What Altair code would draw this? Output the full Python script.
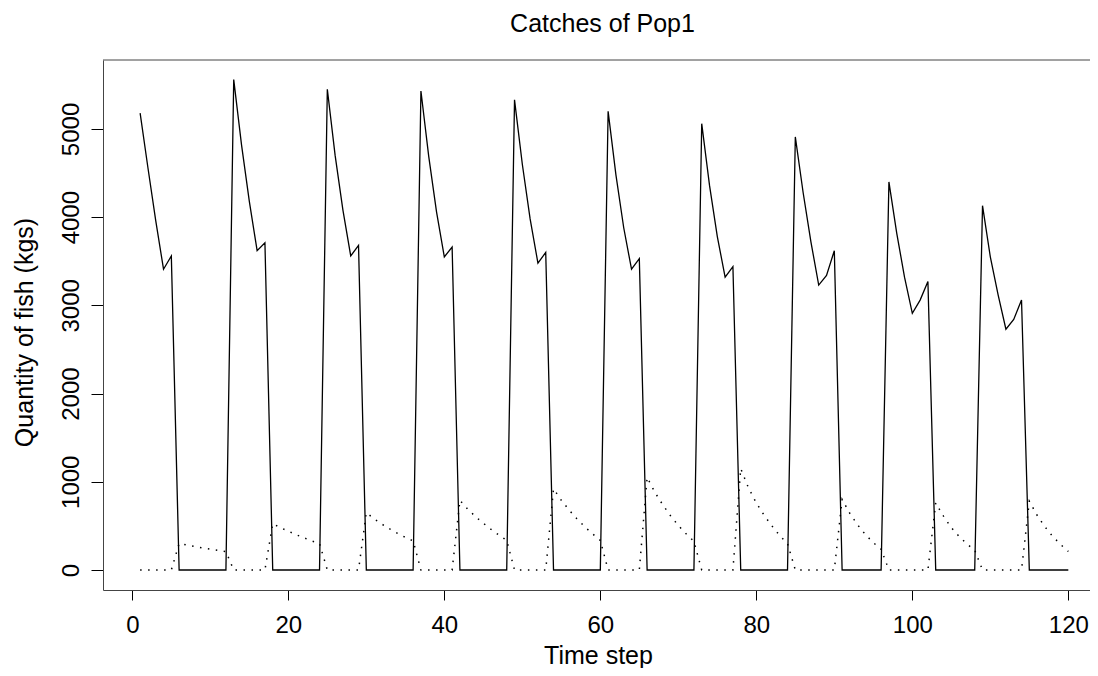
import altair as alt
import pandas as pd

# ---- data ----
time_steps = list(range(1, 121))

pop1_catch = (
    [5180, 4560, 3960, 3410, 3560] + [0] * 7 +
    [5560, 4820, 4180, 3620, 3710] + [0] * 7 +
    [5450, 4700, 4080, 3560, 3680] + [0] * 7 +
    [5430, 4690, 4060, 3550, 3660] + [0] * 7 +
    [5330, 4600, 3980, 3480, 3600] + [0] * 7 +
    [5200, 4480, 3880, 3410, 3530] + [0] * 7 +
    [5060, 4360, 3780, 3320, 3440] + [0] * 7 +
    [4910, 4280, 3720, 3230, 3340, 3620] + [0] * 6 +
    [4400, 3820, 3320, 2910, 3060, 3270] + [0] * 6 +
    [4130, 3550, 3120, 2730, 2840, 3060] + [0] * 6
)

other_catch = (
    [0] * 5 + [300, 282, 266, 250, 236, 222, 208] +
    [0] * 5 + [525, 480, 440, 400, 365, 330, 300] +
    [0] * 5 + [650, 580, 520, 465, 415, 370, 330] +
    [0] * 5 + [790, 690, 605, 530, 460, 395, 335] +
    [0] * 5 + [920, 790, 680, 580, 490, 410, 335] +
    [0] * 5 + [1050, 880, 740, 615, 505, 410, 325] +
    [0] * 5 + [1150, 930, 760, 620, 500, 390, 300] +
    [0] * 6 + [800, 640, 510, 400, 310, 235] +
    [0] * 6 + [760, 610, 480, 380, 295, 225] +
    [0] * 6 + [780, 620, 490, 380, 290, 210]
)

x_ticks = [0, 20, 40, 60, 80, 100, 120]
y_ticks = [0, 1000, 2000, 3000, 4000, 5000]

df = pd.DataFrame({
    "t": time_steps * 2,
    "q": pop1_catch + other_catch,
    "s": ["solid"] * 120 + ["dotted"] * 120,
})

W, H = 987, 530
FONT = "Liberation Sans"

xscale = alt.Scale(domain=[-3.76, 122.78], nice=False, zero=False)
yscale = alt.Scale(domain=[-227, 5782], nice=False, zero=False)

xaxis = alt.Axis(
    values=x_ticks, title="Time step", grid=False, format="d",
    tickSize=10, tickColor="black", domainColor="#444",
    labelFont=FONT, labelFontSize=24, labelColor="black",
    labelBaseline="alphabetic", labelPadding=32, labelFlush=False, labelOverlap=False,
    titleFont=FONT, titleFontSize=25, titleFontWeight="normal", titleColor="black",
    titleBaseline="alphabetic", titleX=495, titleY=73, titleAlign="center",
)
yaxis = alt.Axis(
    values=y_ticks, title="Quantity of fish (kgs)", grid=False, format="d",
    tickSize=12, tickColor="black", domainColor="#444",
    labelFont=FONT, labelFontSize=24, labelColor="black",
    labelAngle=270, labelAlign="center", labelBaseline="alphabetic",
    labelPadding=13, labelFlush=False, labelOverlap=False,
    titleFont=FONT, titleFontSize=25, titleFontWeight="normal", titleColor="black",
    titleAngle=270, titleAlign="center", titleBaseline="alphabetic",
    titleX=-71, titleY=272,
)

base = alt.Chart(df)

solid = base.transform_filter(alt.datum.s == "solid").mark_line(
    color="black", strokeWidth=1.3
).encode(
    x=alt.X("t:Q", scale=xscale, axis=xaxis),
    y=alt.Y("q:Q", scale=yscale, axis=yaxis),
)

dotted = base.transform_filter(alt.datum.s == "dotted").mark_line(
    color="black", strokeWidth=1.5, strokeDash=[1.5, 6.5]
).encode(
    x=alt.X("t:Q", scale=xscale),
    y=alt.Y("q:Q", scale=yscale),
)

top_frame = alt.Chart(pd.DataFrame({"a": [0]})).mark_rule(
    color="#444", strokeWidth=1
).encode(x=alt.value(0), x2=alt.value(W), y=alt.value(0))

chart = alt.layer(top_frame, solid, dotted).properties(
    width=W, height=H,
    title=alt.TitleParams(
        text="Catches of Pop1", font=FONT, fontSize=25, fontWeight="normal",
        color="black", anchor="middle", frame="group", baseline="alphabetic",
        offset=3, dx=6,
    ),
    autosize=alt.AutoSizeParams(type="none"),
    padding={"left": 95, "top": 52, "right": 0, "bottom": 78},
    background="white",
).configure_view(strokeWidth=0)

chart.save("out.html", embed_options={"renderer": "svg", "actions": False})
